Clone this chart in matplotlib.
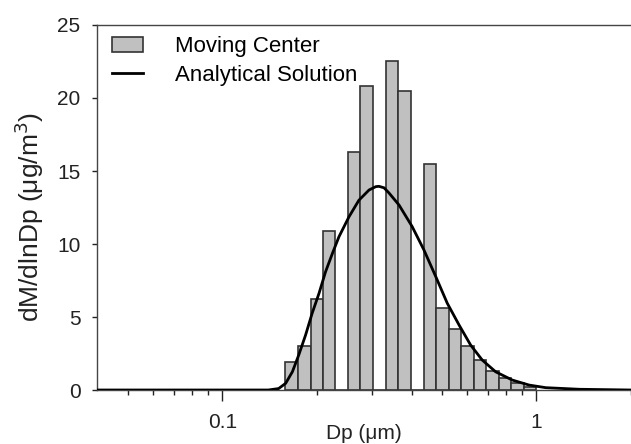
import numpy as np
import matplotlib
matplotlib.use("Agg")
import matplotlib.pyplot as plt
from matplotlib.ticker import FixedLocator, FixedFormatter, NullFormatter
from matplotlib.patches import Patch
from matplotlib.lines import Line2D

plt.rcParams['font.family'] = ['Liberation Sans', 'DejaVu Sans']

# Moving-center bins (µm) and mass per bin
bin_edges = [0.158, 0.174, 0.191, 0.209, 0.229, 0.251, 0.275, 0.302, 0.331,
             0.363, 0.398, 0.437, 0.479, 0.525, 0.575, 0.631, 0.692, 0.759,
             0.832, 0.912, 1.0]
bin_mass = [1.9, 3.0, 6.2, 10.9, 0.0, 16.3, 20.8, 0.0, 22.5, 20.5, 0.0,
            15.5, 5.6, 4.2, 3.0, 2.05, 1.3, 0.8, 0.45, 0.2]

# Analytical solution
dp_curve = [0.04, 0.14, 0.151, 0.159, 0.167, 0.175, 0.184, 0.193, 0.203,
            0.213, 0.224, 0.235, 0.253, 0.272, 0.293, 0.308, 0.315, 0.327,
            0.339, 0.365, 0.402, 0.438, 0.478, 0.520, 0.567, 0.617, 0.672,
            0.741, 0.838, 0.947, 1.07, 1.37, 2.0]
m_curve = [0.0, 0.0, 0.1, 0.46, 1.25, 2.4, 3.77, 5.25, 6.62, 8.1, 9.36,
           10.5, 11.87, 13.0, 13.7, 13.93, 13.95, 13.85, 13.5, 12.67, 11.19,
           9.6, 7.76, 5.94, 4.45, 3.08, 2.05, 1.25, 0.68, 0.34, 0.16, 0.05, 0.0]

x_major = [0.1, 1]
x_major_labels = ['0.1', '1']
x_minor = [0.05, 0.06, 0.07, 0.08, 0.09, 0.2, 0.3, 0.4, 0.5, 0.6, 0.7,
           0.8, 0.9, 2]
y_ticks = [0, 5, 10, 15, 20, 25]

fig = plt.figure(figsize=(6.31, 4.44), dpi=100)
ax = fig.add_axes([0.1545, 0.1216, 0.8455, 0.8221])

edges = np.array(bin_edges)
ax.bar(edges[:-1], bin_mass, width=np.diff(edges), align='edge',
       facecolor='#c0c0c0', edgecolor='#333333', linewidth=1.2, zorder=2)
ax.plot(dp_curve, m_curve, color='black', linewidth=2.0, zorder=3,
        solid_joinstyle='round')

ax.set_xscale('log')
ax.set_xlim(0.04, 2.0)
ax.set_ylim(0, 25)

ax.xaxis.set_major_locator(FixedLocator(x_major))
ax.xaxis.set_major_formatter(FixedFormatter(x_major_labels))
ax.xaxis.set_minor_locator(FixedLocator(x_minor))
ax.xaxis.set_minor_formatter(NullFormatter())
ax.yaxis.set_major_locator(FixedLocator(y_ticks))

ax.tick_params(axis='x', which='major', direction='out', length=7.8, width=1,
               pad=9, labelsize=15, colors='#222222')
ax.tick_params(axis='x', which='minor', direction='out', length=3.5, width=1,
               colors='#222222')
ax.tick_params(axis='y', which='major', direction='out', length=3.6, width=1,
               pad=8.6, labelsize=15, colors='#222222')

for side in ('left', 'bottom', 'top'):
    ax.spines[side].set_color('#444444')
    ax.spines[side].set_linewidth(1.0)
ax.spines['right'].set_visible(False)

ax.set_xlabel('Dp (μm)', fontsize=15, color='#222222', va='bottom')
ax.xaxis.set_label_coords(0.5, -0.1452)
ax.set_ylabel('dM/dlnDp (μg/m$^3$)', fontsize=19, color='#222222',
              va='center', ha='center')
ax.yaxis.set_label_coords(-0.128, 0.475)

handles = [Patch(facecolor='#c0c0c0', edgecolor='#333333', linewidth=1.2),
           Line2D([0], [0], color='black', linewidth=2.0)]
ax.legend(handles, ['Moving Center', 'Analytical Solution'], loc='upper left',
          bbox_to_anchor=(0.027, 0.969), frameon=False, fontsize=16,
          handlelength=1.4, handletextpad=1.44, borderpad=0, borderaxespad=0,
          labelspacing=0.34, handleheight=0.6)

fig.savefig('out.png', dpi=100)
